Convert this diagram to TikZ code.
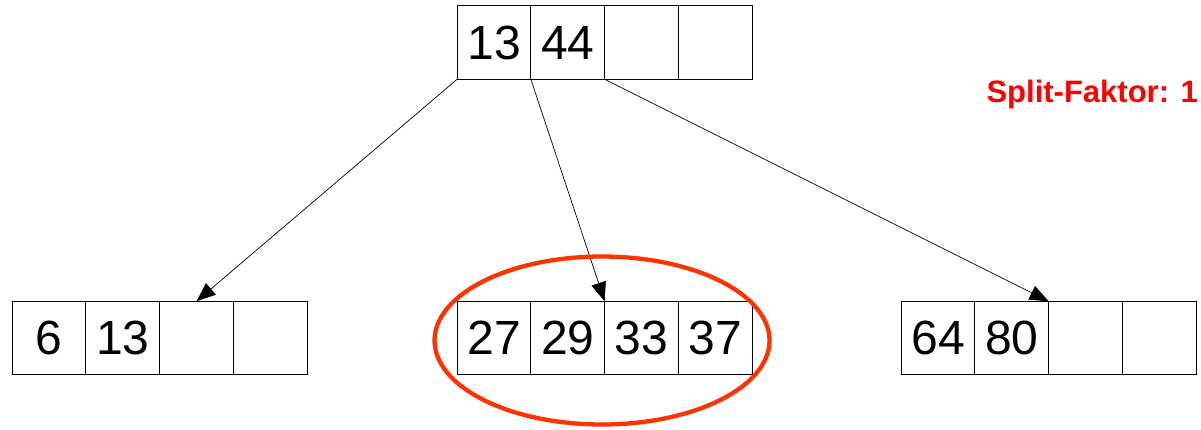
\documentclass[tikz,border=0pt]{standalone}
\usepackage{fontspec}
\setmainfont{Liberation Sans}
\usetikzlibrary{arrows.meta}
\definecolor{ellred}{HTML}{FF3300}
\tikzset{
  cell/.style={draw, line width=0.9pt, minimum width=73.75pt, minimum height=73.5pt,
    inner sep=0pt, outer sep=0pt, font=\fontsize{48}{56}\selectfont},
  arr/.style={line width=0.7pt, -{Triangle[length=19pt,width=15pt]}},
  ell/.style={draw=ellred, line width=4.3pt}
}
\begin{document}
\begin{tikzpicture}[x=1pt,y=-1pt]
\useasboundingbox (0,0) rectangle (1201,429);
% top node
\node[cell] (t1) at (494,42.5) {13};
\node[cell] (t2) at (567.75,42.5) {44};
\node[cell] (t3) at (641.5,42.5) {};
\node[cell] (t4) at (715.25,42.5) {};
% left node
\node[cell] (l1) at (49,338) {6};
\node[cell] (l2) at (122.75,338) {13};
\node[cell] (l3) at (196.5,338) {};
\node[cell] (l4) at (270.25,338) {};
% middle node
\node[cell] (m1) at (494,338) {27};
\node[cell] (m2) at (567.75,338) {29};
\node[cell] (m3) at (641.5,338) {33};
\node[cell] (m4) at (715.25,338) {37};
% right node
\node[cell] (r1) at (938,338) {64};
\node[cell] (r2) at (1011.75,338) {80};
\node[cell] (r3) at (1085.5,338) {};
\node[cell] (r4) at (1159.25,338) {};
% connectors
\draw[arr] (t1.south west) -- (l3.north);
\draw[arr] (t2.south west) -- (m3.north west);
\draw[arr] (t3.south west) -- (r3.north west);
% highlight
\draw[ell] (602,340.5) ellipse [x radius=167.5, y radius=84];
% label
\node[anchor=base east, inner sep=0pt, text=red, font=\bfseries\fontsize{31}{36}\selectfont] (sf) at (1198,102.5) {Split-Faktor: 1};
\end{tikzpicture}
\end{document}
